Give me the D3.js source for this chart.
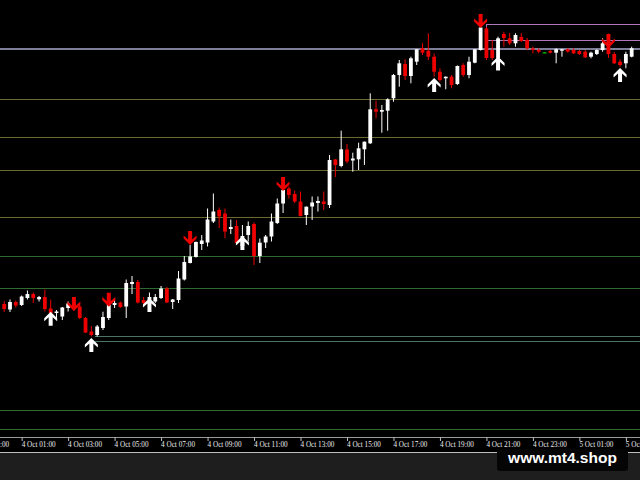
<!DOCTYPE html>
<html><head><meta charset="utf-8">
<script src="https://cdn.jsdelivr.net/npm/d3@7"></script>
<style>body{margin:0;background:#1e1e1e;}svg{display:block}</style>
</head><body>
<svg id="c" width="640" height="480"></svg>
<script>
// ---- data (M15 bars starting 4 Oct 00:15) ----
const firstBar = new Date(2022, 9, 4, 0, 15);
const barMinutes = 15;
const open  = [1699.60,1699.05,1699.80,1699.50,1700.20,1700.60,1700.07,1700.30,1699.15,1698.70,1698.35,1699.20,1699.70,1699.35,1698.20,1696.85,1696.50,1697.20,1698.20,1699.50,1699.75,1699.35,1701.60,1701.80,1700.00,1700.00,1699.85,1700.20,1701.15,1699.80,1700.00,1702.05,1703.70,1704.30,1705.60,1705.75,1707.85,1709.00,1708.65,1707.10,1707.40,1705.40,1706.50,1707.60,1704.40,1705.75,1706.35,1707.70,1709.65,1711.15,1710.60,1709.85,1708.50,1709.35,1709.70,1709.85,1709.50,1714.05,1713.40,1715.05,1713.95,1714.07,1715.07,1715.67,1719.07,1718.83,1718.93,1720.17,1722.50,1723.60,1722.40,1723.83,1725.17,1724.93,1724.33,1722.83,1722.17,1722.33,1721.60,1723.50,1722.50,1723.73,1725.00,1727.15,1725.00,1724.17,1726.60,1726.17,1725.67,1726.30,1726.00,1725.15,1725.00,1724.77,1724.90,1724.73,1724.93,1725.07,1725.00,1724.90,1724.83,1724.33,1724.60,1725.00,1725.80,1724.60,1723.83,1723.67,1724.33];
const high  = [1699.90,1700.05,1699.95,1700.45,1700.95,1700.75,1700.40,1701.05,1700.05,1699.00,1699.30,1699.85,1700.10,1699.50,1698.30,1697.40,1697.50,1698.83,1699.70,1700.15,1699.85,1702.05,1702.40,1702.00,1700.30,1700.75,1700.60,1701.40,1701.30,1700.10,1702.90,1704.40,1705.50,1705.85,1706.50,1709.15,1710.65,1709.25,1709.15,1708.05,1708.00,1707.50,1707.85,1707.75,1706.15,1706.50,1708.65,1710.15,1711.20,1711.35,1710.95,1710.85,1709.35,1710.35,1710.35,1710.85,1714.50,1714.10,1716.93,1715.60,1714.73,1715.73,1715.85,1720.67,1719.93,1719.50,1720.17,1722.60,1724.00,1724.07,1724.33,1725.10,1725.67,1726.67,1724.67,1723.17,1722.35,1722.50,1723.45,1723.67,1724.33,1725.10,1727.40,1727.30,1726.00,1726.33,1726.83,1726.70,1726.67,1726.70,1726.20,1725.33,1725.17,1724.80,1725.00,1725.17,1725.10,1725.17,1725.17,1725.00,1725.00,1724.83,1725.07,1726.17,1726.65,1724.80,1724.07,1724.83,1725.33];
const low   = [1698.80,1698.80,1699.25,1699.40,1700.05,1699.70,1699.85,1698.85,1698.60,1698.20,1698.00,1698.85,1698.90,1698.10,1696.70,1696.35,1696.35,1697.00,1698.00,1699.20,1699.20,1698.20,1700.60,1699.65,1699.60,1699.90,1699.70,1700.10,1699.70,1699.10,1699.70,1701.95,1703.65,1704.25,1705.00,1705.35,1707.70,1707.20,1706.20,1706.60,1705.60,1705.10,1705.85,1703.50,1703.70,1705.20,1705.85,1707.60,1708.70,1710.15,1709.70,1708.35,1707.50,1708.00,1708.85,1709.00,1709.20,1712.30,1713.27,1713.67,1712.83,1713.00,1713.50,1715.60,1718.17,1716.73,1716.93,1719.83,1721.33,1722.00,1721.67,1723.50,1724.50,1724.00,1722.33,1721.83,1721.07,1721.17,1721.50,1722.33,1722.17,1723.67,1724.95,1724.00,1724.00,1724.00,1725.33,1725.50,1725.33,1725.80,1725.00,1724.67,1724.67,1724.70,1724.67,1723.67,1724.33,1724.73,1724.60,1724.50,1724.20,1724.17,1724.50,1724.83,1724.20,1723.60,1723.33,1723.17,1724.27];
const close = [1699.10,1699.80,1699.45,1700.35,1700.60,1700.20,1700.30,1699.10,1698.70,1698.85,1699.25,1699.65,1699.30,1698.20,1696.75,1696.50,1697.35,1698.30,1699.50,1699.70,1699.30,1701.70,1701.80,1699.75,1699.70,1700.30,1700.30,1701.15,1699.75,1700.05,1702.15,1703.80,1704.35,1705.80,1705.95,1708.05,1708.85,1708.35,1706.85,1707.30,1705.70,1706.40,1707.40,1704.40,1705.73,1706.35,1707.85,1709.65,1711.00,1710.50,1709.85,1708.40,1709.33,1709.75,1709.90,1709.60,1714.00,1713.50,1715.07,1713.85,1714.15,1715.17,1715.83,1719.07,1718.83,1719.00,1720.07,1722.50,1723.67,1722.40,1724.17,1725.07,1724.73,1724.33,1722.83,1722.00,1722.33,1721.50,1723.40,1722.50,1723.83,1725.07,1727.25,1724.20,1724.20,1726.17,1726.20,1725.67,1726.50,1725.90,1725.17,1725.00,1724.83,1724.77,1724.73,1725.07,1725.07,1724.83,1724.67,1724.60,1724.27,1724.73,1725.00,1725.67,1724.60,1723.67,1723.50,1724.60,1725.17];

const tickTimes = ["2022-10-03T23:00","2022-10-04T01:00","2022-10-04T03:00","2022-10-04T05:00","2022-10-04T07:00","2022-10-04T09:00","2022-10-04T11:00","2022-10-04T13:00","2022-10-04T15:00","2022-10-04T17:00","2022-10-04T19:00","2022-10-04T21:00","2022-10-04T23:00","2022-10-05T01:00","2022-10-05T03:00"];

// signal arrows: bar index and tip price
const sellBars   = [12, 18, 32, 48, 82, 104];
const sellPrices = [1698.90, 1699.33, 1705.50, 1710.90, 1727.20, 1725.20];
const buyBars    = [8, 15, 25, 41, 74, 85, 106];
const buyPrices  = [1698.83, 1696.20, 1700.20, 1706.40, 1722.20, 1724.35, 1723.20];

// horizontal levels
const olivePrices = [1720.10, 1716.27, 1712.93, 1708.30];
const greenPrices = [1704.37, 1701.17, 1688.93, 1687.10];
const grayLevel = 1725.10;
const lowZone = {fromBar: 15.6, prices: [1696.40, 1695.83]};
const topBox = {fromBar: 83, top: 1727.60, bottom: 1726.00};

// ---- drawing ----
const svg = d3.select('#c');
const W = 640, plotBottom = 437;
const barTime = i => new Date(firstBar.getTime() + i * barMinutes * 60000);
const n = open.length;
const bars = d3.range(n).map(i => ({t: barTime(i), o: open[i], h: high[i], l: low[i], c: close[i]}));

const x = d3.scaleTime().domain([barTime(0), barTime(108)]).range([4.2, 631.68]);
const y = d3.scaleLinear().domain([1686.4, 1730]).range([436, 0]);

svg.append('rect').attr('x',0).attr('y',0).attr('width',W).attr('height',453).attr('fill','#000');
svg.append('rect').attr('x',0).attr('y',453).attr('width',W).attr('height',27).attr('fill','#1e1e1e');

const lv = svg.append('g').attr('shape-rendering','crispEdges');
lv.selectAll('.ol').data(olivePrices).join('line')
  .attr('x1',0).attr('x2',W).attr('y1',d=>y(d)).attr('y2',d=>y(d))
  .attr('stroke','#6a6a30').attr('stroke-width',1);
lv.selectAll('.gr').data(greenPrices).join('line')
  .attr('x1',0).attr('x2',W).attr('y1',d=>y(d)).attr('y2',d=>y(d))
  .attr('stroke','#2f6a2f').attr('stroke-width',1);
lv.selectAll('.lz').data(lowZone.prices).join('line')
  .attr('x1',x(barTime(lowZone.fromBar))).attr('x2',W).attr('y1',d=>y(d)).attr('y2',d=>y(d))
  .attr('stroke','#4b7468').attr('stroke-width',1);
lv.append('line').attr('x1',0).attr('x2',W).attr('y1',y(grayLevel)).attr('y2',y(grayLevel))
  .attr('stroke','#7e7e98').attr('stroke-width',1.3);
lv.append('rect').attr('x',x(barTime(topBox.fromBar))).attr('y',y(topBox.top))
  .attr('width',W).attr('height',y(topBox.bottom)-y(topBox.top))
  .attr('fill','none').attr('stroke','#b07ab8').attr('stroke-width',1);

const colorOf = d => d.c > d.o ? '#ffffff' : (d.c < d.o ? '#ee0000' : '#00c000');
const cg = svg.append('g');
cg.selectAll('.wick').data(bars).join('line')
  .attr('x1',d=>x(d.t)).attr('x2',d=>x(d.t))
  .attr('y1',d=>y(d.h)).attr('y2',d=>y(d.l))
  .attr('stroke',colorOf).attr('stroke-width',1);
const bw = 3.8;
cg.selectAll('.body').data(bars).join('rect')
  .attr('x',d=>x(d.t)-bw/2).attr('width',bw)
  .attr('y',d=>y(Math.max(d.o,d.c)))
  .attr('height',d=>Math.max(1.2, Math.abs(y(d.o)-y(d.c))))
  .attr('fill',colorOf);

const upPath = 'M0,0 L6.5,6.5 L6.5,9.6 L2,5.6 L2,14 L-2,14 L-2,5.6 L-6.5,9.6 L-6.5,6.5 Z';
const downPath = 'M0,0 L6.5,-6.5 L6.5,-9.6 L2,-5.6 L2,-14 L-2,-14 L-2,-5.6 L-6.5,-9.6 L-6.5,-6.5 Z';
const ag = svg.append('g');
ag.selectAll('.buy').data(buyBars).join('path')
  .attr('d',upPath).attr('fill','#ffffff')
  .attr('transform',(b,i)=>`translate(${x(barTime(b))},${y(buyPrices[i])})`);
ag.selectAll('.sell').data(sellBars).join('path')
  .attr('d',downPath).attr('fill','#ee0000')
  .attr('transform',(b,i)=>`translate(${x(barTime(b))},${y(sellPrices[i])})`);

// axis
svg.append('line').attr('x1',0).attr('x2',W).attr('y1',plotBottom+0.5).attr('y2',plotBottom+0.5)
  .attr('stroke','#9a9a9a').attr('shape-rendering','crispEdges');
svg.append('line').attr('x1',0).attr('x2',W).attr('y1',452.5).attr('y2',452.5)
  .attr('stroke','#bdbdbd').attr('shape-rendering','crispEdges');

const parse = d3.timeParse('%Y-%m-%dT%H:%M');
const axis = d3.axisBottom(x).tickValues(tickTimes.map(parse))
  .tickFormat(d3.timeFormat('%-d %b %H:%M')).tickSize(4).tickSizeOuter(0);
const ax = svg.append('g').attr('transform',`translate(0,${plotBottom})`).call(axis);
ax.select('.domain').remove();
ax.selectAll('.tick line').attr('stroke','#bdbdbd');
ax.selectAll('.tick text').attr('fill','#eeeeee').attr('text-anchor','start')
  .attr('x',-0.5).attr('y',4.5).attr('dy','0.71em')
  .style('font-family','"Liberation Serif", serif').style('font-size','7.2px');

// watermark
svg.append('rect').attr('x',497).attr('y',449).attr('width',131).attr('height',22).attr('rx',3)
  .attr('fill','#050505');
svg.append('text').attr('x',562.5).attr('y',462.5).attr('text-anchor','middle')
  .attr('fill','#ffffff').style('font-family','"Liberation Sans", Arial, sans-serif')
  .style('font-weight','bold').style('font-size','15.5px').text('www.mt4.shop');
</script>
</body></html>
